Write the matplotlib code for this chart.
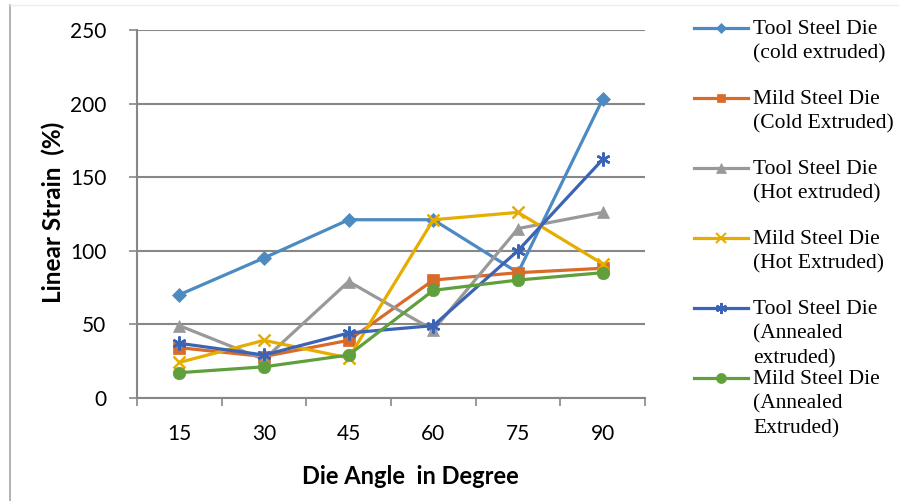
import matplotlib.pyplot as plt
from matplotlib.lines import Line2D
import numpy as np

# die angles (degrees) and linear strain (%) for each die / extrusion condition
angles = ['15', '30', '45', '60', '75', '90']
tool_cold = [70, 95, 121, 121, 85, 203]
mild_cold = [34, 28, 39, 80, 85, 88]
tool_hot = [49, 26, 79, 46, 115, 126]
mild_hot = [24, 39, 27, 121, 126, 91]
tool_annealed = [37, 29, 44, 49, 100, 162]
mild_annealed = [17, 21, 29, 73, 80, 85]

labels = ['Tool Steel Die\n(cold extruded)',
          'Mild Steel Die\n(Cold Extruded)',
          'Tool Steel Die\n(Hot extruded)',
          'Mild Steel Die\n(Hot Extruded)',
          'Tool Steel Die\n(Annealed\nextruded)',
          'Mild Steel Die\n(Annealed\nExtruded)']

series = [tool_cold, mild_cold, tool_hot, mild_hot, tool_annealed, mild_annealed]
colors = ['#4D8AC2', '#D86B2A', '#999999', '#E6AD00', '#3C64B4', '#60A03C']
markers = ['D', 's', '^', 'x', (6, 2, 0), 'o']
msizes = [7, 8, 9, 9, 10, 9]

plt.rcParams['font.family'] = ['Lato', 'DejaVu Sans']

fig = plt.figure(figsize=(8.99, 5.01), dpi=100)
ax = fig.add_axes([0.1524, 0.2062, 0.5651, 0.7339])

x = np.arange(1, len(angles) + 1)
for vals, c, m, ms, lab in zip(series, colors, markers, msizes, labels):
    ax.plot(x, vals, color=c, lw=2.3, marker=m, markersize=ms,
            markeredgewidth=1.8 if m in ('x', (6, 2, 0)) else 0.5,
            markeredgecolor=c, label=lab)

grid_c = '#878787'
ax.set_xlim(0.5, 6.5)
ax.set_ylim(0, 250)
ax.set_yticks(range(0, 251, 50))
ax.set_xticks(x)
ax.set_xticklabels(angles)
ax.set_xticks(np.arange(0.5, 6.6, 1), minor=True)
ax.yaxis.grid(True, color=grid_c, lw=1.5)
ax.set_axisbelow(True)
for s in ['top', 'right']:
    ax.spines[s].set_visible(False)
for s in ['left', 'bottom']:
    ax.spines[s].set_color(grid_c)
    ax.spines[s].set_linewidth(1.5)
ax.tick_params(axis='y', length=6, width=1.2, color=grid_c, pad=16, labelsize=15)
ax.tick_params(axis='x', which='major', length=0, pad=19, labelsize=15)
ax.tick_params(axis='x', which='minor', length=6, width=1.2, color=grid_c)

# axis titles
fig.text(53 / 899, 1 - 212 / 501, 'Linear Strain  (%)', fontsize=17.5, fontweight='bold',
         rotation=90, ha='center', va='center')
fig.text(410 / 899, 1 - 477 / 501, 'Die Angle  in Degree', fontsize=17, fontweight='bold',
         ha='center', va='center')

# legend drawn by hand: one row every 70 px
for i, (c, m, ms, lab) in enumerate(zip(colors, markers, msizes, labels)):
    yf = 1 - (28 + 70 * i) / 501
    fig.add_artist(Line2D([694 / 899, 748 / 899], [yf, yf], color=c, lw=2.3,
                          transform=fig.transFigure))
    fig.add_artist(Line2D([721 / 899], [yf], color=c, marker=m,
                          markersize=ms * 0.8, markeredgecolor=c,
                          markeredgewidth=1.5 if m in ('x', (6, 2, 0)) else 0.5,
                          transform=fig.transFigure))
    fig.text(753 / 899, yf + 8 / 501, lab, fontsize=15.5, va='top', ha='left',
             family='Liberation Serif', linespacing=1.37)

# chart area border
fig.add_artist(Line2D([10 / 899, 10 / 899], [0, 1 - 5 / 501], color='#A6A6A6', lw=1.2,
                      transform=fig.transFigure))
fig.add_artist(Line2D([10 / 899, 1], [1 - 5 / 501, 1 - 5 / 501], color='#EDEDED', lw=1,
                      transform=fig.transFigure))

fig.savefig('out.png', dpi=100)
